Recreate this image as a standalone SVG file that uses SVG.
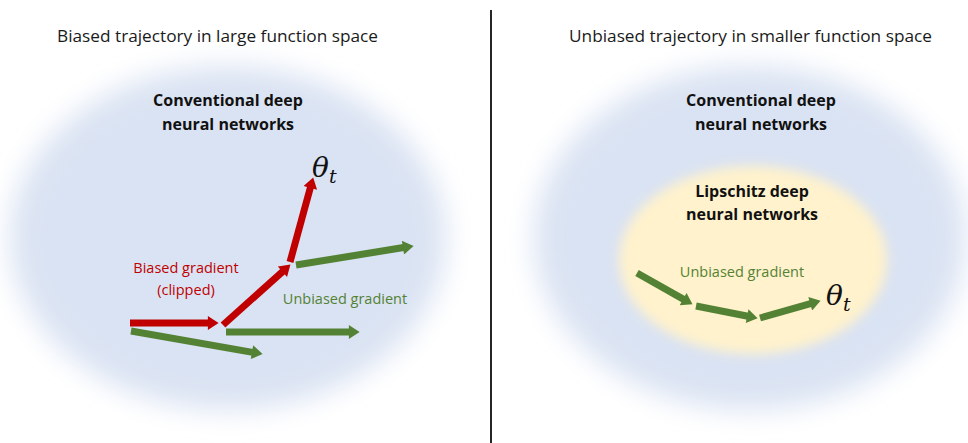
<svg xmlns="http://www.w3.org/2000/svg" width="968" height="443" viewBox="0 0 968 443">
  <style>
    .title { font-family: "Open Sans", "Liberation Sans", sans-serif; font-size: 15.5px; fill: #1a1a1a; }
    .bold { font-family: "Open Sans", "Liberation Sans", sans-serif; font-size: 16px; font-weight: bold; fill: #111; text-anchor: middle; }
    .lbl { font-family: "Open Sans", "Liberation Sans", sans-serif; font-size: 14.5px; }
    .red { fill: #C00000; }
    .grn { fill: #548235; }
    .theta { font-family: "DejaVu Serif", "Liberation Serif", serif; font-style: italic; font-size: 28px; fill: #111; }
    .sub { font-family: "DejaVu Serif", "Liberation Serif", serif; font-style: italic; font-size: 19px; fill: #111; }
    .ra { stroke: #C00000; stroke-width: 7; fill: none; marker-end: url(#hr); }
    .ga { stroke: #548235; stroke-width: 7; fill: none; marker-end: url(#hg); }
  </style>
  <defs>
    <filter id="blurB" x="-20%" y="-20%" width="140%" height="140%">
      <feGaussianBlur stdDeviation="14"/>
    </filter>
    <filter id="blurY" x="-20%" y="-20%" width="140%" height="140%">
      <feGaussianBlur stdDeviation="6"/>
    </filter>
    <marker id="hr" markerUnits="userSpaceOnUse" markerWidth="12" markerHeight="14" viewBox="0 0 10 13" refX="2" refY="6.5" orient="auto">
      <path d="M0,0 L10,6.5 L0,13 z" fill="#C00000"/>
    </marker>
    <marker id="hg" markerUnits="userSpaceOnUse" markerWidth="12" markerHeight="14" viewBox="0 0 10 13" refX="2" refY="6.5" orient="auto">
      <path d="M0,0 L10,6.5 L0,13 z" fill="#548235"/>
    </marker>
  </defs>

  <rect width="968" height="443" fill="#ffffff"/>

  <g id="left-space">
    <ellipse cx="228" cy="238" rx="218" ry="172" fill="#DAE3F3" filter="url(#blurB)"/>
  </g>
  <g id="right-space">
    <ellipse cx="750" cy="238" rx="216" ry="172" fill="#DAE3F3" filter="url(#blurB)"/>
  </g>
  <g id="lipschitz-space">
    <ellipse cx="753" cy="260" rx="134" ry="94" fill="#FFF2CC" filter="url(#blurY)"/>
  </g>

  <g id="divider">
    <line x1="491" y1="10" x2="491" y2="443" stroke="#262626" stroke-width="2"/>
  </g>

  <g id="titles">
    <text class="title" x="57" y="42" textLength="321" lengthAdjust="spacingAndGlyphs">Biased trajectory in large function space</text>
    <text class="title" x="569" y="42" textLength="363" lengthAdjust="spacingAndGlyphs">Unbiased trajectory in smaller function space</text>
  </g>

  <g id="left-label">
    <text class="bold" x="228" y="106">Conventional deep</text>
    <text class="bold" x="228" y="130">neural networks</text>
  </g>
  <g id="right-label">
    <text class="bold" x="761" y="106">Conventional deep</text>
    <text class="bold" x="761" y="130">neural networks</text>
  </g>
  <g id="lipschitz-label">
    <text class="bold" x="752" y="197">Lipschitz deep</text>
    <text class="bold" x="752" y="220">neural networks</text>
  </g>

  <g id="connectors">
    <line class="ra" x1="130" y1="323" x2="210" y2="323"/>
    <line class="ra" x1="223" y1="325" x2="284" y2="270.3"/>
    <line class="ra" x1="290" y1="262" x2="310.9" y2="185.7"/>
    <line class="ga" x1="131" y1="331" x2="254.1" y2="352.6"/>
    <line class="ga" x1="226" y1="332" x2="351" y2="332"/>
    <line class="ga" x1="296" y1="265" x2="405.1" y2="247.3"/>
    <line class="ga" x1="637" y1="273" x2="685" y2="300.1"/>
    <line class="ga" x1="696" y1="306" x2="749.2" y2="316.5"/>
    <line class="ga" x1="760" y1="318" x2="812.3" y2="303.2"/>
  </g>

  <g id="left-texts">
    <text class="lbl red" x="186" y="273" text-anchor="middle">Biased gradient</text>
    <text class="lbl red" x="186" y="295" text-anchor="middle">(clipped)</text>
    <text class="lbl grn" x="345" y="304" text-anchor="middle">Unbiased gradient</text>
    <text class="theta" x="312" y="177">θ</text>
    <text class="sub" x="329" y="183">t</text>
  </g>
  <g id="right-texts">
    <text class="lbl grn" x="742" y="277" text-anchor="middle">Unbiased gradient</text>
    <text class="theta" x="826" y="305">θ</text>
    <text class="sub" x="843" y="311">t</text>
  </g>
</svg>
